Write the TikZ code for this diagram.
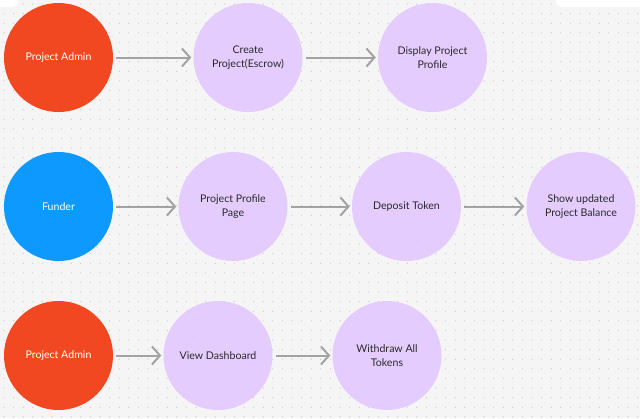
\documentclass[tikz,border=0pt]{standalone}
\usepackage{fontspec}
\setmainfont{Lato}
\usetikzlibrary{arrows.meta}
\definecolor{adminred}{HTML}{F24822}
\definecolor{funderblue}{HTML}{0D99FF}
\definecolor{steplilac}{HTML}{E4CCFF}
\definecolor{canvasgray}{HTML}{F5F5F5}
\definecolor{dotgray}{HTML}{C4C4C4}
\definecolor{flowgray}{HTML}{A3A3A3}
\definecolor{inkdark}{HTML}{2A2A2A}
\tikzset{
  actor/.style={circle,minimum size=109pt,inner sep=0pt,text=white,font=\fontsize{10.6}{14}\selectfont,align=center},
  stepnode/.style={circle,fill=steplilac,minimum size=109pt,inner sep=0pt,text=inkdark,font=\fontsize{10.6}{14}\selectfont,align=center},
  flow/.style={draw=flowgray,line width=2pt,shorten <=3pt,shorten >=2pt,-{Straight Barb[length=8pt,width=18pt,line width=2pt]}}
}
\begin{document}
\begin{tikzpicture}[x=1pt,y=-1pt]
\def\DOTSTEP{9.6}
	\useasboundingbox (0,0) rectangle (640,418);
	\fill[canvasgray] (0,0) rectangle (640,418);
	\foreach \i in {0,...,66}
	  \foreach \j in {0,...,43}
	    \fill[dotgray] (4+\i*\DOTSTEP,4+\j*\DOTSTEP) circle (0.6);
	\fill[white,rounded corners=5pt] (-10,-10) rectangle (18,7);
	\fill[white,rounded corners=5pt] (556,-10) rectangle (650,7);

	% admin creates the escrow
	\node[actor,fill=adminred] (admin1) at (58.5,57.5) {Project Admin};
	\node[stepnode] (create) at (248,57.5) {Create\\Project(Escrow)};
	\node[stepnode] (display) at (432.5,57.5) {Display Project\\Profile};
	\draw[flow] (admin1) -- (create);
	\draw[flow] (create) -- (display);

	% funder deposits
	\node[actor,fill=funderblue] (funder) at (58.5,206.5) {Funder};
	\node[stepnode] (profile) at (233,206.5) {Project Profile\\Page};
	\node[stepnode] (deposit) at (406.5,206.5) {Deposit Token};
	\node[stepnode] (balance) at (581,206.5) {Show updated\\Project Balance};
	\draw[flow] (funder) -- (profile);
	\draw[flow] (profile) -- (deposit);
	\draw[flow] (deposit) -- (balance);

	% admin withdraws
	\node[actor,fill=adminred] (admin2) at (58.5,355.5) {Project Admin};
	\node[stepnode] (dashboard) at (218,355.5) {View Dashboard};
	\node[stepnode] (withdraw) at (387,355.5) {Withdraw All\\Tokens};
	\draw[flow] (admin2) -- (dashboard);
	\draw[flow] (dashboard) -- (withdraw);

\end{tikzpicture}
\end{document}
